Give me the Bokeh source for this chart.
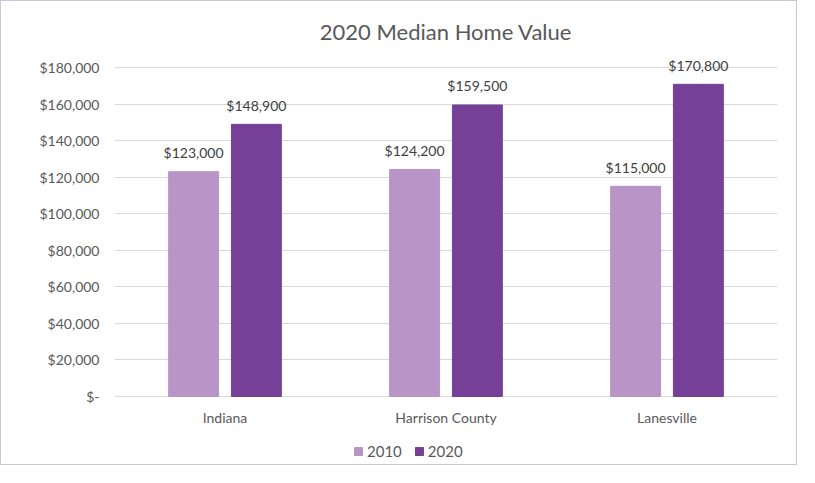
from bokeh.plotting import figure
from bokeh.models import ColumnDataSource, FactorRange, FixedTicker, Legend, LegendItem, LabelSet, Range1d
from bokeh.transform import dodge
from bokeh.core.properties import value
from bokeh.embed import file_html
from bokeh.resources import INLINE

places = ["Indiana", "Harrison County", "Lanesville"]
values_2010 = [123000, 124200, 115000]
values_2020 = [148900, 159500, 170800]
y_ticks = [0, 20000, 40000, 60000, 80000, 100000, 120000, 140000, 160000, 180000]

FONT = "Lato"
src = ColumnDataSource(dict(
    place=places,
    zero=[0] * len(places),
    v2010=values_2010,
    v2020=values_2020,
    l2010=["${:,}".format(v) for v in values_2010],
    l2020=["${:,}".format(v) for v in values_2020],
))

# frame extends above/below the value axis so labels and legend are not clipped
p = figure(x_range=FactorRange(*places), y_range=Range1d(-37200, 189850),
           width=797, height=465, output_backend="svg", toolbar_location=None,
           title="2020 Median Home Value",
           min_border_left=113, min_border_right=21, min_border_top=48, min_border_bottom=2)

p.title.align = "center"
p.title.offset = -37
p.title.standoff = 9
p.title.text_font = FONT
p.title.text_font_size = "22px"
p.title.text_font_style = "normal"
p.title.text_color = "#595959"

c2010 = "#B894C7"
c2020 = "#764098"
r1 = p.vbar(x=dodge("place", -0.142, range=p.x_range), top="v2010", width=0.226,
            source=src, color=c2010)
r2 = p.vbar(x=dodge("place", 0.142, range=p.x_range), top="v2020", width=0.226,
            source=src, color=c2020)

for col, lab, off in (("v2010", "l2010", -0.142), ("v2020", "l2020", 0.142)):
    ls = LabelSet(x=dodge("place", off, range=p.x_range), y=col, text=lab, source=src,
                  text_align="center", text_baseline="middle", y_offset=19,
                  text_font=value(FONT), text_font_size=value("14px"), text_color=value("#404040"))
    p.add_layout(ls)

# category labels under the baseline
cats = LabelSet(x="place", y="zero", text="place", source=src,
                text_align="center", text_baseline="middle", y_offset=-21,
                text_font=value(FONT), text_font_size=value("14px"), text_color=value("#595959"))
p.add_layout(cats)
p.xaxis.visible = False

p.yaxis.ticker = FixedTicker(ticks=y_ticks)
overrides = {t: "${:,}".format(t) for t in y_ticks}
overrides[0] = "$-"
p.yaxis.major_label_overrides = overrides
p.yaxis.axis_line_color = None
p.yaxis.major_tick_line_color = None
p.yaxis.major_tick_out = 0
p.yaxis.major_tick_in = 0
p.yaxis.minor_tick_line_color = None
p.yaxis.major_label_text_font = FONT
p.yaxis.major_label_text_font_size = "14px"
p.yaxis.major_label_text_color = "#595959"
p.yaxis.major_label_standoff = 15

p.xgrid.grid_line_color = None
p.ygrid.grid_line_color = "#D9D9D9"
p.outline_line_color = None
p.border_fill_color = "white"

legend = Legend(items=[LegendItem(label="2010", renderers=[r1]),
                       LegendItem(label="2020", renderers=[r2])],
                orientation="horizontal", location=(239, 4),
                label_text_font=FONT, label_text_font_size="15px",
                label_text_color="#595959", glyph_width=10, glyph_height=10,
                spacing=12, label_standoff=4, border_line_color=None,
                background_fill_alpha=0, padding=2, margin=0)
p.add_layout(legend)

p.styles = {"border": "1px solid #D0C4DC"}

open("out.html", "w").write(file_html(p, INLINE))
